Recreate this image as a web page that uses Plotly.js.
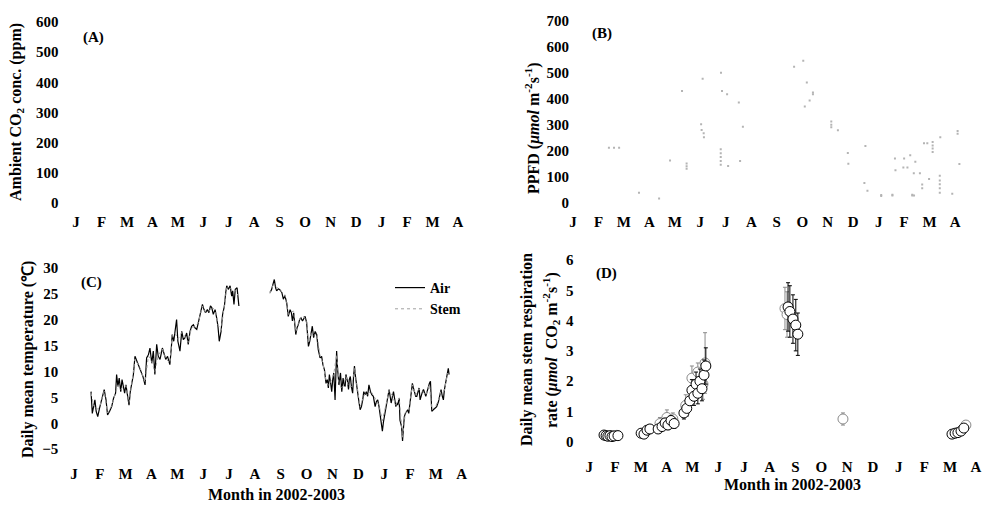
<!DOCTYPE html>
<html>
<head>
<meta charset="utf-8">
<script src="https://cdn.plot.ly/plotly-3.0.1.min.js"></script>
<style>html,body{margin:0;padding:0;background:#fff;}#chart{width:983px;height:505px;}</style>
</head>
<body>
<div id="chart"></div>
<script>
// Month tick labels (Jan 2002 .. Apr 2003), x values are month index from the first "J"
var monthTicks = [0,1,2,3,4,5,6,7,8,9,10,11,12,13,14,15];
var monthLabels = ["J","F","M","A","M","J","J","A","S","O","N","D","J","F","M","A"];

// (B) PPFD
var ppfdX = [1.41,1.61,1.81,2.59,3.38,3.81,4.28,4.46,4.46,4.46,5.03,5.05,5.13,5.14,5.09,5.81,5.85,6.05,5.80,5.80,5.80,5.80,5.80,6.09,6.51,6.56,6.67,8.68,9.04,9.18,9.42,9.42,9.29,9.10,10.14,10.14,10.14,10.40,10.79,10.81,11.44,11.48,11.56,12.10,12.10,12.54,12.54,12.64,12.66,12.97,13.00,13.13,13.24,13.32,13.32,13.38,13.39,13.44,13.62,13.71,13.71,13.78,13.91,13.98,14.12,14.12,14.12,14.12,14.40,14.40,14.40,14.40,14.40,14.42,14.89,15.10,15.10,15.17];
var ppfdV = [211,211,211,38,15,162,430,150,140,130,301,279,267,251,477,500,430,417,205,190,175,160,145,141,385,160,292,523,546,462,424,417,393,370,312,300,290,278,191,149,75,218,45,29,25,30,27,170,124,135,170,135,182,30,27,113,27,157,113,69,55,228,228,91,233,220,208,195,103,85,70,55,38,251,34,275,265,148];

// (C) Daily mean temperature, air
var airX1 = [0.66,0.71,0.76,0.81,0.86,0.92,0.99,1.07,1.17,1.24,1.30,1.38,1.46,1.53,1.61,1.65,1.70,1.75,1.81,1.86,1.91,1.96,2.01,2.08,2.13,2.18,2.23,2.30,2.36,2.46,2.57,2.67,2.75,2.81,2.88,2.94,3.01,3.07,3.13,3.20,3.26,3.33,3.42,3.48,3.55,3.62,3.71,3.77,3.80,3.86,3.91,3.97,4.02,4.10,4.17,4.23,4.30,4.36,4.42,4.49,4.55,4.62,4.68,4.75,4.81,4.88,4.97,5.03,5.09,5.16,5.22,5.28,5.33,5.39,5.46,5.52,5.57,5.62,5.69,5.75,5.82,5.87,5.91,5.97,6.04,6.10,6.14,6.19,6.24,6.31,6.35,6.38];
var airT1 = [6.1,1.9,3.2,4.5,2.3,1.3,2.9,4.5,6.5,4.5,1.6,2.3,3.2,4.8,5.8,9.4,7.1,8.7,6.1,8.4,7.1,5.8,7.4,5.5,3.5,6.1,7.7,9.4,12.9,11.6,10.3,9.0,7.4,12.6,13.2,14.5,11.6,13.9,9.4,15.2,12.9,12.3,14.5,13.5,12.3,12.9,11.3,14.8,17.1,15.8,17.7,20.0,15.8,13.9,17.7,16.1,16.5,17.4,15.2,17.7,18.7,19.0,18.4,18.1,19.4,21.0,22.9,21.9,21.3,21.9,21.3,22.6,22.3,21.0,21.9,20.3,18.7,15.8,17.7,21.0,22.6,25.2,26.5,25.8,26.5,24.5,25.5,22.9,25.8,26.1,24.5,22.6];
var airX2 = [7.58,7.64,7.70,7.75,7.80,7.84,7.91,7.97,8.04,8.10,8.16,8.23,8.29,8.36,8.41,8.45,8.50,8.54,8.58,8.63,8.68,8.73,8.78,8.84,8.89,8.94,9.00,9.07,9.12,9.17,9.22,9.27,9.33,9.39,9.45,9.52,9.58,9.63,9.69,9.75,9.80,9.84,9.88,9.93,9.97,10.01,10.05,10.10,10.14,10.16,10.20,10.25,10.31,10.36,10.41,10.45,10.49,10.52,10.58,10.62,10.65,10.69,10.74,10.78,10.82,10.85,10.89,10.92,10.98,11.03,11.07,11.12,11.17,11.21,11.26,11.31,11.36,11.41,11.47,11.52,11.58,11.65,11.70,11.75,11.80,11.84,11.89,11.93,11.97,12.01,12.06,12.10,12.14,12.19,12.23,12.27,12.32,12.36,12.41,12.45,12.49,12.52,12.58,12.61,12.67,12.71,12.74,12.78,12.82,12.87,12.91,12.95,13.00,13.05,13.09,13.13,13.17,13.22,13.26,13.30,13.35,13.39,13.43,13.48,13.52,13.57,13.61,13.66,13.71,13.75,13.79,13.84,13.90,13.97,14.03,14.10,14.15,14.20,14.25,14.29,14.33,14.37,14.41,14.45,14.48,14.51];
var airT2 = [25.2,25.7,26.8,27.7,26.1,25.5,25.9,25.7,25.2,23.9,24.6,23.2,20.6,21.9,21.3,19.7,21.3,19.4,17.1,18.4,19.0,20.0,20.3,19.7,20.1,20.6,19.4,14.8,15.8,17.1,18.7,16.5,17.7,17.1,14.2,12.6,12.9,11.3,10.3,7.7,8.4,6.8,9.4,7.7,6.1,8.4,9.7,4.5,10.3,13.9,10.3,7.4,9.7,6.1,8.7,7.4,7.1,9.4,8.1,6.5,8.4,9.0,6.8,5.8,9.4,11.0,9.0,7.7,5.8,3.9,2.6,3.2,4.5,6.1,5.5,6.1,5.2,7.4,6.1,5.5,5.2,3.2,4.2,4.5,3.2,1.9,0.5,-1.5,0.2,1.3,2.9,3.9,5.2,6.5,5.2,3.9,5.2,6.1,4.5,3.2,3.9,3.5,4.8,0.6,-0.6,-3.4,-1.3,1.3,1.9,2.3,2.6,1.9,4.5,6.1,7.7,6.8,6.1,5.2,5.2,6.1,6.8,4.5,5.5,6.1,6.5,5.8,5.2,6.1,7.1,7.7,8.1,2.3,2.6,2.9,3.2,4.2,5.5,6.5,5.2,4.5,6.5,7.7,8.4,9.7,10.6,9.4];

// (C) Daily mean temperature, stem
var stemX1 = [0.66,0.76,0.86,0.99,1.07,1.17,1.30,1.46,1.61,1.70,1.81,1.91,2.01,2.13,2.23,2.36,2.57,2.75,2.88,3.01,3.13,3.26,3.42,3.55,3.71,3.80,3.91,4.02,4.17,4.30,4.42,4.55,4.68,4.81,4.97,5.09,5.22,5.33,5.46,5.57,5.69,5.82,5.91,6.04,6.14,6.24,6.35];
var stemT1 = [5.8,3.5,2.6,3.0,4.6,6.2,2.0,3.4,5.9,7.3,6.4,7.2,7.2,4.0,7.5,12.4,10.5,7.9,13.0,11.9,9.9,13.1,14.3,12.5,11.6,16.8,17.4,16.2,17.5,16.7,15.6,18.5,18.6,19.4,22.6,21.4,21.5,22.4,21.8,19.0,17.9,22.4,26.1,26.2,25.3,25.6,24.6];
var stemX2 = [7.58,7.70,7.80,7.91,8.04,8.16,8.29,8.41,8.50,8.58,8.68,8.78,8.89,9.00,9.07,9.17,9.27,9.39,9.52,9.63,9.75,9.84,9.93,10.05,10.16,10.25,10.36,10.45,10.52,10.62,10.74,10.85,10.98,11.07,11.17,11.26,11.36,11.47,11.58,11.70,11.80,11.93,12.06,12.19,12.32,12.45,12.58,12.71,12.82,12.95,13.09,13.22,13.35,13.48,13.61,13.75,13.84,13.97,14.10,14.20,14.33,14.45,14.51];
var stemT2 = [25.0,26.6,26.3,26.0,25.3,24.8,21.0,21.5,21.6,17.6,19.3,20.6,20.5,19.8,15.4,17.3,16.9,17.3,13.0,11.6,8.2,7.3,8.0,9.5,13.2,7.8,6.6,7.6,9.1,6.9,7.1,10.6,6.2,3.1,4.8,5.7,5.5,6.3,5.4,4.4,3.5,0.5,3.2,6.3,5.3,3.5,4.9,-2.7,2.1,2.2,7.4,5.4,6.6,6.2,5.4,7.5,2.6,3.1,4.4,6.3,6.3,9.6,9.3];

// (D) Daily mean stem respiration rate, series 1 (black) and series 2 (grey)
var resp1X = [0.57,0.65,0.72,0.80,0.88,0.96,1.11,2.01,2.12,2.24,2.35,2.67,2.82,2.94,3.05,3.17,3.29,3.67,3.78,3.90,3.98,4.06,4.14,4.21,4.29,4.37,4.45,4.52,7.71,7.78,7.90,8.01,8.09,14.07,14.19,14.30,14.42,14.53];
var resp1Y = [0.22,0.20,0.18,0.20,0.17,0.19,0.20,0.28,0.25,0.38,0.42,0.42,0.50,0.62,0.55,0.70,0.60,0.95,1.10,1.35,1.70,1.50,1.90,1.60,2.00,1.75,2.20,2.50,4.45,4.30,4.05,3.85,3.55,0.25,0.28,0.30,0.35,0.45];
var resp1E = [0.05,0.05,0.05,0.05,0.05,0.05,0.04,0.08,0.08,0.08,0.08,0.12,0.12,0.15,0.15,0.15,0.15,0.2,0.25,0.3,0.35,0.3,0.4,0.35,0.4,0.4,0.5,0.6,0.8,0.85,0.8,0.85,0.7,0.06,0.06,0.06,0.07,0.08];
var resp2X = [0.88,1.07,2.74,3.01,3.24,3.74,3.98,4.21,4.41,4.49,7.59,7.67,9.84,14.61];
var resp2Y = [0.20,0.21,0.60,0.80,0.75,1.20,2.10,2.30,1.90,2.60,4.40,4.20,0.75,0.55];
var resp2E = [0.05,0.05,0.2,0.25,0.2,0.35,0.4,0.3,0.5,1.0,0.7,0.75,0.2,0.08];

var W = 983, H = 505;
function fx(p){ return p / W; }
function fy(p){ return 1 - p / H; }

var serif = "Liberation Serif, Times New Roman, serif";
var tickFont = {family: serif, size: 15, color: "#000", weight: "bold"};

function xAxis(left, right, range, anchor, standoff){
  return {domain: [fx(left), fx(right)], range: range, anchor: anchor,
    tickmode: "array", tickvals: monthTicks, ticktext: monthLabels,
    showgrid: false, zeroline: false, showline: false, ticks: "",
    ticklabeloverflow: "allow", ticklabelstandoff: standoff, tickfont: tickFont, fixedrange: true};
}
function yAxis(top, bottom, range, anchor, dtick, standoff){
  return {domain: [fy(bottom), fy(top)], range: range, anchor: anchor,
    dtick: dtick, tick0: 0, showgrid: false, zeroline: false, showline: false, ticks: "",
    ticklabeloverflow: "allow", ticklabelstandoff: standoff, tickfont: tickFont, fixedrange: true};
}

var traces = [
  {x: ppfdX, y: ppfdV, xaxis: "x2", yaxis: "y2", type: "scatter", mode: "markers",
   marker: {size: 2, color: "#b4b4b4", symbol: "square"}, showlegend: false, hoverinfo: "skip"},
  {x: airX1.concat([7.0]).concat(airX2), y: airT1.concat([null]).concat(airT2), xaxis: "x3", yaxis: "y3",
   type: "scatter", mode: "lines", name: "Air", line: {color: "#000", width: 1.2}, connectgaps: false},
  {x: stemX1.concat([7.0]).concat(stemX2), y: stemT1.concat([null]).concat(stemT2), xaxis: "x3", yaxis: "y3",
   type: "scatter", mode: "lines", name: "Stem", line: {color: "#a0a0a0", width: 1, dash: "dot"}, connectgaps: false},
  {x: resp2X, y: resp2Y, xaxis: "x4", yaxis: "y4", type: "scatter", mode: "markers",
   error_y: {type: "data", array: resp2E, visible: true, color: "#8a8a8a", thickness: 1, width: 2},
   marker: {size: 10, color: "#fff", line: {color: "#8a8a8a", width: 1}}, showlegend: false},
  {x: resp1X, y: resp1Y, xaxis: "x4", yaxis: "y4", type: "scatter", mode: "markers",
   error_y: {type: "data", array: resp1E, visible: true, color: "#000", thickness: 1, width: 2},
   marker: {size: 10, color: "#fff", line: {color: "#000", width: 1}}, showlegend: false},
  {x: [null], y: [null], xaxis: "x", yaxis: "y", type: "scatter", mode: "markers", showlegend: false}
];

var titleFont = {family: serif, size: 16, color: "#000", weight: "bold"};
function ann(text, x, y, extra){
  var a = {text: text, x: fx(x), y: fy(y), xref: "paper", yref: "paper", showarrow: false,
    font: titleFont, xanchor: "center", yanchor: "middle"};
  for (var k in extra) a[k] = extra[k];
  return a;
}
var labelFont = {family: serif, size: 15, color: "#000", weight: "bold"};

var annotations = [
  ann("(A)", 93, 38, {font: labelFont}),
  ann("(B)", 602, 33, {font: labelFont}),
  ann("(C)", 91, 282, {font: labelFont}),
  ann("(D)", 606, 273, {font: labelFont}),
  ann("Ambient CO<sub>2</sub> conc. (ppm)", 17, 112, {textangle: -90}),
  ann("PPFD (<i>μmol</i> m<sup>-2</sup>s<sup>-1</sup>)", 532, 128, {textangle: -90}),
  ann("Daily mean temperature (℃)", 28, 360, {textangle: -90}),
  ann("Daily mean stem respiration", 527, 350, {textangle: -90}),
  ann("rate (<i>μmol</i>  CO<sub>2</sub> m<sup>-2</sup>s<sup>-1</sup>)", 551, 350, {textangle: -90}),
  ann("Month in 2002-2003", 276, 505, {yanchor: "bottom"}),
  ann("Month in 2002-2003", 792, 484, {})
];

var layout = {
  width: W, height: H, margin: {l: 0, r: 0, t: 0, b: 0},
  paper_bgcolor: "#fff", plot_bgcolor: "#fff",
  xaxis: xAxis(68.4, 465.6, [-0.3, 15.3], "y", 2),
  yaxis: yAxis(13, 209, [-20, 630], "x", 100, 9),
  // panel B: the plot area reaches further left so the first month sits well inside it
  xaxis2: xAxis(539.9, 962.7, [-1.3, 15.3], "y2", 2),
  yaxis2: yAxis(13, 209, [-25, 730], "x2", 100, -30),
  xaxis3: xAxis(66.2, 469.5, [-0.3, 15.3], "y3", 3),
  yaxis3: yAxis(257.2, 459.6, [-7, 32], "x3", 5, 7),
  xaxis4: xAxis(581.6, 982.4, [-0.3, 15.25], "y4", 4),
  yaxis4: yAxis(247.9, 452.3, [-0.35, 6.4], "x4", 1, 7),
  showlegend: true,
  legend: {x: fx(390), y: fy(272), xanchor: "left", yanchor: "top", bgcolor: "rgba(0,0,0,0)",
    font: {family: serif, size: 14, color: "#000", weight: "bold"}, tracegroupgap: 0, itemwidth: 30},
  annotations: annotations
};

Plotly.newPlot("chart", traces, layout, {displayModeBar: false, staticPlot: true});
</script>
</body>
</html>
